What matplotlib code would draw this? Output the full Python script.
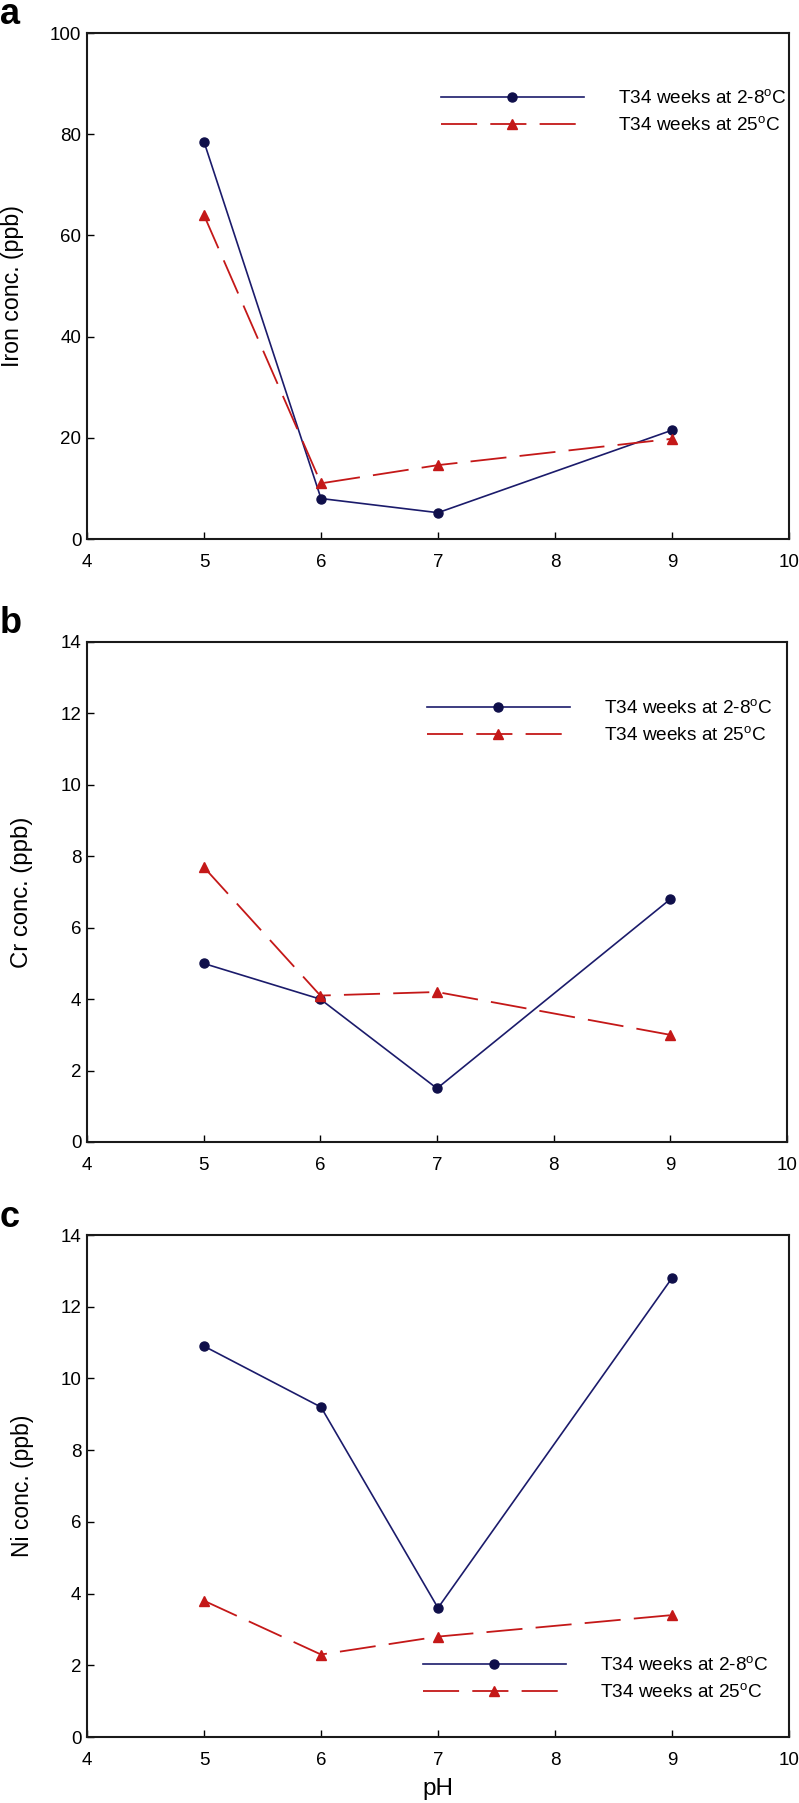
import matplotlib
matplotlib.use("Agg")
import matplotlib.pyplot as plt

plt.rcParams['font.family'] = ['Liberation Sans', 'DejaVu Sans']
plt.rcParams['lines.scale_dashes'] = False

# Data
ph = [5, 6, 7, 9]
iron_cold = [78.5, 8.0, 5.2, 21.5]
iron_warm = [64.0, 11.0, 14.6, 19.8]
cr_cold = [5.0, 4.0, 1.5, 6.8]
cr_warm = [7.7, 4.1, 4.2, 3.0]
ni_cold = [10.9, 9.2, 3.6, 12.8]
ni_warm = [3.8, 2.3, 2.8, 3.4]

label_cold = "T34 weeks at 2-8$^{\\mathregular{o}}$C"
label_warm = "T34 weeks at 25$^{\\mathregular{o}}$C"
ylabels = ["Iron conc. (ppb)", "Cr conc. (ppb)", "Ni conc. (ppb)"]
letters = ["a", "b", "c"]
xticks = [4, 5, 6, 7, 8, 9, 10]
yticks_a = [0, 20, 40, 60, 80, 100]
yticks_bc = [0, 2, 4, 6, 8, 10, 12, 14]

W, H = 799, 1803
fig = plt.figure(figsize=(W / 100, H / 100), dpi=100)

blue = '#1b1b6b'
blue_m = '#0f0f4a'
red = '#c41818'

# axes boxes in pixels: (left, right, top, bottom)
boxes = [(87, 789, 33, 539), (87, 787, 642, 1142), (87, 789, 1235, 1737)]
legend_pos = [(441, 112), (427, 722), (423, 1679)]
ylabel_x = [12.5, 22.5, 22.5]
ylabel_fs = [16.7, 17.2, 16.5]
letter_base = [24, 633, 1227]

series = [(iron_cold, iron_warm, yticks_a), (cr_cold, cr_warm, yticks_bc), (ni_cold, ni_warm, yticks_bc)]

for i, ((l, r, t, b), (cold, warm, yt)) in enumerate(zip(boxes, series)):
    ax = fig.add_axes([l / W, 1 - b / H, (r - l) / W, (b - t) / H])
    ax.plot(ph, cold, color=blue, lw=1.2, marker='o', ms=6.5,
            mfc=blue_m, mec=blue_m, label=label_cold)
    ax.plot(ph, warm, color=red, lw=1.3, marker='^', ms=6.5,
            mfc=red, mec=red, dashes=(26, 9.5), label=label_warm)
    ax.set_xlim(4, 10)
    ax.set_ylim(yt[0], yt[-1])
    ax.set_xticks(xticks)
    ax.set_yticks(yt)
    ax.tick_params(direction='in', length=5, width=1.0, labelsize=13.5,
                   top=False, right=False)
    ax.tick_params(axis='x', pad=11)
    ax.tick_params(axis='y', pad=4)
    for s in ax.spines.values():
        s.set_linewidth(1.5)
        s.set_color('#1a1a1a')
    ax.set_ylabel(ylabels[i], fontsize=ylabel_fs[i], va='center')
    ax.yaxis.set_label_coords((ylabel_x[i] - l) / (r - l), 0.5)
    if i == 2:
        ax.set_xlabel("pH", fontsize=17.5, va='center')
        ax.xaxis.set_label_coords(0.5, -(1789 - b) / (b - t))
    lx, ly = legend_pos[i]
    ax.legend(loc='center left', bbox_to_anchor=(lx / W, 1 - ly / H),
              bbox_transform=fig.transFigure, frameon=False, fontsize=13.7,
              handlelength=7.5, handletextpad=1.8, labelspacing=0.45,
              borderpad=0, borderaxespad=0, numpoints=1)
    fig.text(0, 1 - letter_base[i] / H, letters[i], fontsize=26,
             fontweight='bold', ha='left', va='baseline')

fig.savefig("out.png", dpi=100)
